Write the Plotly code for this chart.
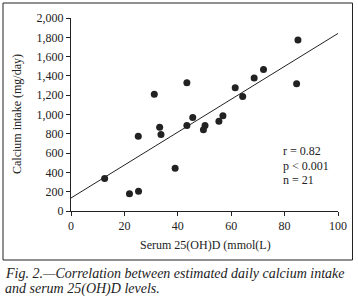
import plotly.graph_objects as go

# Data
serum_25ohd = [12.6, 21.9, 25.3, 39.0, 25.2, 31.2, 33.2, 33.7, 43.4, 43.4,
               45.6, 49.6, 50.2, 55.4, 56.9, 61.5, 64.3, 68.6, 72.1, 84.5, 85.0]
calcium_intake = [336, 180, 204, 443, 775, 1210, 869, 793, 1329, 886,
                  969, 841, 886, 931, 986, 1277, 1187, 1377, 1467, 1318, 1772]
fit_x = [0, 100]
fit_y = [135, 1840]
x_ticks = [0, 20, 40, 60, 80, 100]
y_ticks = [0, 200, 400, 600, 800, 1000, 1200, 1400, 1600, 1800, 2000]
y_tick_labels = ["0", "200", "400", "600", "800", "1,000", "1,200", "1,400", "1,600", "1,800", "2,000"]
stats_lines = ["r = 0.82", "p < 0.001", "n = 21"]
caption_lines = ["Fig. 2.\u2014Correlation between estimated daily calcium intake",
                 "and serum 25(OH)D levels."]

FONT = "Liberation Serif"
W, H = 358, 300
L, R, T, B = 71, 20, 18, 89
pw, ph = W - L - R, H - T - B


def px_x(px):
    return (px - L) / pw


def px_y(py):
    return (H - B - py) / ph


fig = go.Figure()
fig.add_trace(go.Scatter(x=fit_x, y=fit_y, mode="lines",
                         line=dict(color="#222222", width=1), hoverinfo="skip"))
fig.add_trace(go.Scatter(x=serum_25ohd, y=calcium_intake, mode="markers",
                         marker=dict(color="#222222", size=7, line=dict(width=0))))

fig.update_layout(
    width=W, height=H,
    autosize=False,
    margin=dict(l=L, r=R, t=T, b=B, pad=0, autoexpand=False),
    paper_bgcolor="white", plot_bgcolor="white",
    showlegend=False,
    font=dict(family=FONT, size=12, color="#222222"),
    xaxis=dict(range=[0, 100], tickvals=x_ticks, ticks="outside", ticklen=4,
               tickcolor="#222222", showline=True, linecolor="#222222", linewidth=1,
               showgrid=False, zeroline=False, automargin=False,
               tickfont=dict(family=FONT, size=12)),
    yaxis=dict(range=[0, 2000], tickvals=y_ticks, ticktext=y_tick_labels,
               ticks="outside", ticklen=4, tickcolor="#222222", showline=True,
               linecolor="#222222", linewidth=1, showgrid=False, zeroline=False,
               automargin=False, tickfont=dict(family=FONT, size=12)),
)

ann = []
ann.append(dict(text="Calcium intake (mg/day)", textangle=-90, x=px_x(17), y=px_y(114),
                xref="paper", yref="paper", xanchor="center", yanchor="middle",
                showarrow=False, font=dict(family=FONT, size=12, color="#222222")))
ann.append(dict(text="Serum 25(OH)D (mmol(L)", x=px_x(205), y=px_y(245),
                xref="paper", yref="paper", xanchor="center", yanchor="middle",
                showarrow=False, font=dict(family=FONT, size=12, color="#222222")))
for i, s in enumerate(stats_lines):
    ann.append(dict(text=s, x=px_x(281), y=px_y(151 + 14.5 * i), xref="paper", yref="paper",
                    xanchor="left", yanchor="middle", showarrow=False,
                    font=dict(family=FONT, size=12, color="#222222")))
for i, s in enumerate(caption_lines):
    ann.append(dict(text="<i>" + s + "</i>", x=px_x(3), y=px_y(273 + 15.5 * i),
                    xref="paper", yref="paper", xanchor="left", yanchor="middle",
                    showarrow=False, font=dict(family=FONT, size=14, color="#222222")))
fig.update_layout(annotations=ann)

fig.add_shape(type="rect", xref="paper", yref="paper",
              x0=px_x(3), x1=px_x(352.5), y0=px_y(260), y1=px_y(3),
              line=dict(color="#222222", width=1))

fig.write_html("out.html", config={"displayModeBar": False},
               post_script="document.body.style.margin='0';document.body.style.overflow='hidden';")
